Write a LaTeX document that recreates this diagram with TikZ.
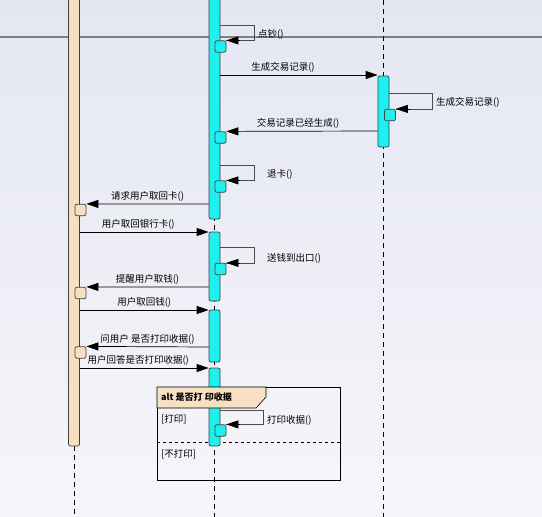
\documentclass[tikz,border=0pt]{standalone}
\usepackage{fontspec}
\newfontfamily\cjk{Noto Sans CJK SC}
\usepackage{xcolor}
\usetikzlibrary{positioning,calc,arrows.meta}

\definecolor{bartone}{HTML}{1EF0F0}
\definecolor{usertone}{HTML}{F7E0C2}
\definecolor{bgtop}{HTML}{E4E7F2}
\definecolor{bgbot}{HTML}{F6F5FA}

\begin{document}
\begin{tikzpicture}[x=1pt, y=-1pt,
  act/.style={draw=black!75, fill=bartone, rounded corners=2pt, line width=0.7pt, minimum width=11pt, inner sep=0pt},
  nest/.style={act, minimum width=11pt, minimum height=11.5pt},
  life/.style={dashed, line width=0.7pt, dash pattern=on 5pt off 4pt},
  msg/.style={-{Triangle[length=12pt,width=8pt]}, line width=0.7pt},
  loop/.style={line width=0.5pt, black!70},
  lbl/.style={font=\cjk\fontsize{9.5}{11}\selectfont, inner sep=1pt}]
\useasboundingbox (0,0) rectangle (542,517);
\shade[top color=bgtop, bottom color=bgbot] (0,0) rectangle (542,517);
\draw[gray, line width=1.4pt] (0,37) -- (542,37);

% lifelines
\draw[life] (74,446) -- (74,517);
\draw[life] (214.5,0) -- (214.5,517);
\draw[life] (383.5,0) -- (383.5,517);

% alt frame
\draw[line width=0.9pt] (157,387) rectangle (340,480);
\draw[dashed, line width=0.7pt] (157,442) -- (340,442);
\node[lbl, anchor=west] (guard1) at (160,419) {[打印]};
\node[lbl, anchor=west] (guard2) at (160,454) {[不打印]};

% activations
\node[act, fill=usertone, minimum height=456pt] (user) at (74,218) {};
\node[act, minimum height=229pt] (atm1) at (214.5,104.5) {};
\node[act, minimum height=69pt] (atm2) at (214.5,266.5) {};
\node[act, minimum height=52pt] (atm3) at (214.5,336) {};
\node[act, minimum height=78pt] (atm4) at (214.5,407) {};
\node[act, minimum height=71pt] (rec) at (383.5,111.5) {};

\node[nest] (n1) at (220.5,46.5) {};
\node[nest] (n2) at (220.5,137.5) {};
\node[nest] (n3) at (220.5,186.5) {};
\node[nest] (n4) at (220.5,269) {};
\node[nest] (n5) at (220.5,430.5) {};
\node[nest] (r1) at (390,115) {};
\node[nest, fill=usertone] (u1) at (80.5,210) {};
\node[nest, fill=usertone] (u2) at (80.5,293) {};
\node[nest, fill=usertone] (u3) at (80.5,352.5) {};

% alt header over the bar
\draw[fill=usertone, line width=0.6pt] (157,387) -- (266,387) -- (266,397) -- (256,408) -- (157,408) -- cycle;
\node[lbl, anchor=west, font=\cjk\bfseries\fontsize{9}{11}\selectfont] (altname) at (160,397.5) {alt 是否打 印收据};

% self calls
\draw[loop] (atm1.east |- 0,25) -- ++(34,0) |- (n1.north east);
\draw[msg] ($(n1.north east)+(14,0)$) -- (n1.north east);
\node[lbl, anchor=west] (q1) at (257,34) {点钞()};
\draw[loop] (rec.east |- 0,93) -- (432,93) |- (r1.north east);
\draw[msg] ($(r1.north east)+(14,0)$) -- (r1.north east);
\node[lbl, anchor=west] (q2) at (435,102) {生成交易记录()};
\draw[loop] (atm1.east |- 0,165) -- ++(34,0) |- (n3.north east);
\draw[msg] ($(n3.north east)+(14,0)$) -- (n3.north east);
\node[lbl, anchor=west] (q3) at (266,174) {退卡()};
\draw[loop] (atm2.east |- 0,247) -- ++(34,0) |- (n4.north east);
\draw[msg] ($(n4.north east)+(14,0)$) -- (n4.north east);
\node[lbl, anchor=west] (q4) at (266,258) {送钱到出口()};
\draw[loop] (atm4.east |- 0,410) -- ++(43,0) |- (n5.north east);
\draw[msg] ($(n5.north east)+(14,0)$) -- (n5.north east);
\node[lbl, anchor=west] (q5) at (266,420) {打印收据()};

% messages
\draw[msg] (atm1.east |- 0,75) -- node[lbl, above=1pt, xshift=-16pt] {生成交易记录()} (rec.west |- 0,75);
\draw[msg] (rec.west |- 0,131) -- node[lbl, above=1pt, xshift=-4pt] {交易记录已经生成()} (n2.north east);
\draw[msg] (atm1.west |- 0,204) -- node[lbl, above=1pt] {请求用户取回卡()} (u1.north east);
\draw[msg] (user.east |- 0,232) -- node[lbl, above=1pt, xshift=-6pt] {用户取回银行卡()} (atm2.west |- 0,232);
\draw[msg] (atm2.west |- 0,287) -- node[lbl, above=1pt] {提醒用户取钱()} (u2.north east);
\draw[msg] (user.east |- 0,310) -- node[lbl, above=1pt] {用户取回钱()} (atm3.west |- 0,310);
\draw[msg] (atm3.west |- 0,347) -- node[lbl, above=1pt] {问用户 是否打印收据()} (u3.north east);
\draw[msg] (user.east |- 0,368) -- node[lbl, above=1pt, xshift=-6pt] {用户回答是否打印收据()} (atm4.west |- 0,368);
\end{tikzpicture}
\end{document}
